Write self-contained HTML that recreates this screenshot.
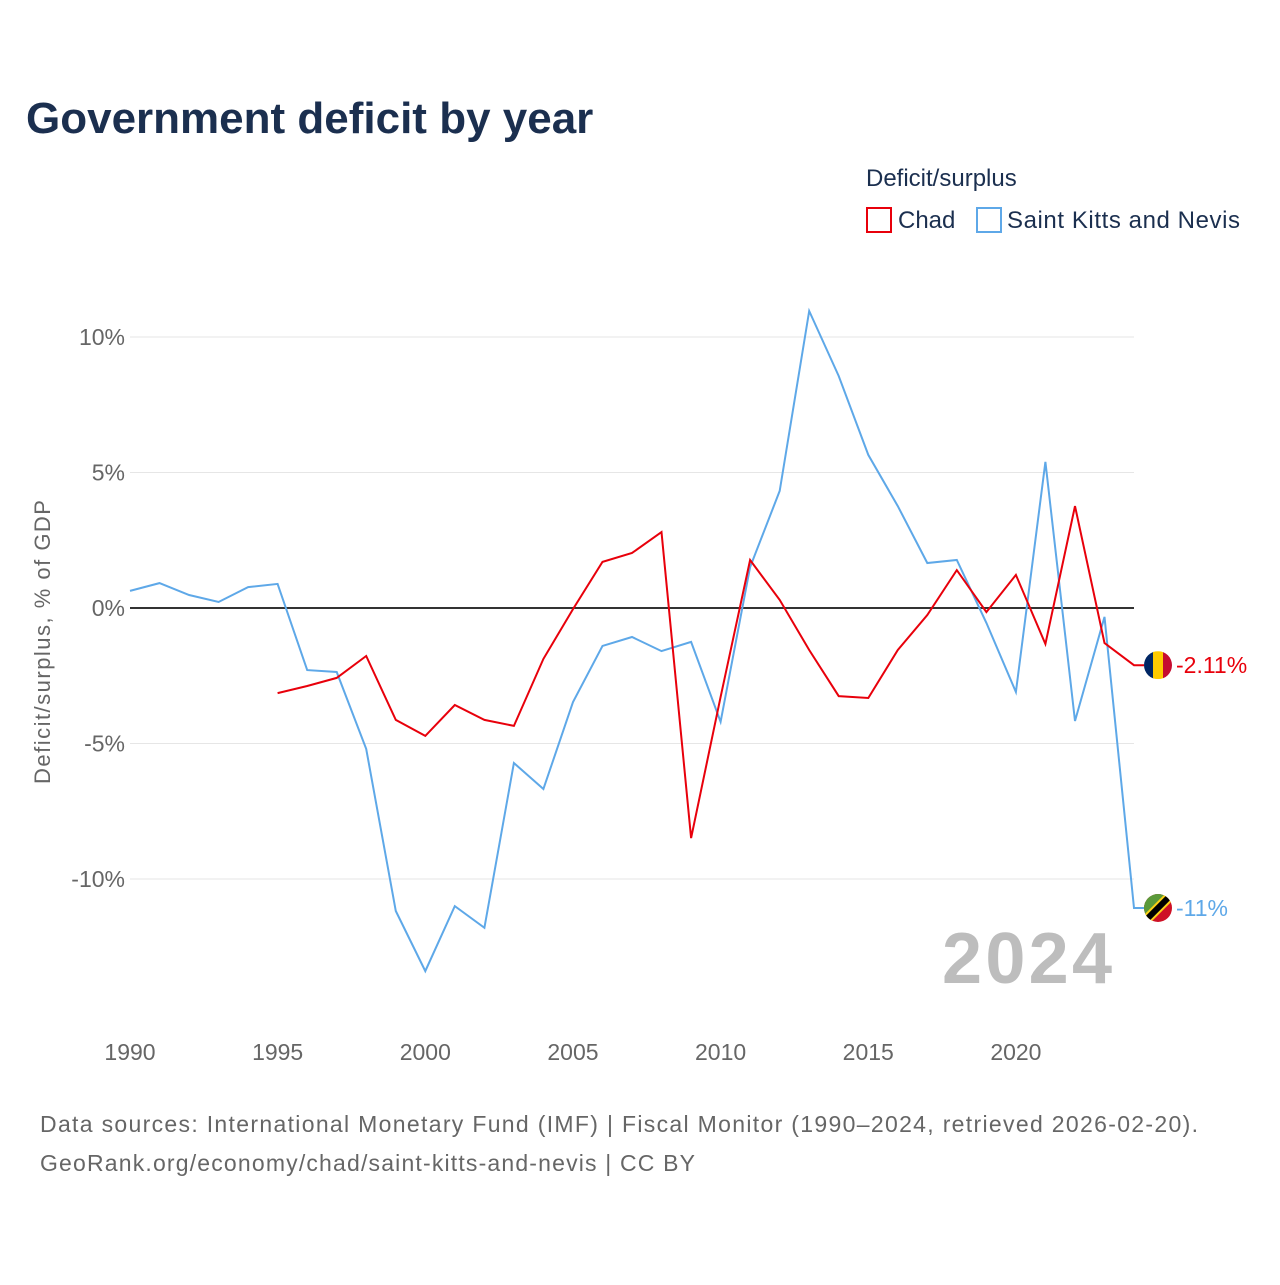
<!DOCTYPE html>
<html><head><meta charset="utf-8"><style>
body{margin:0;background:#fff;font-family:"Liberation Sans",sans-serif;}
</style></head><body>
<svg width="1280" height="1280" xmlns="http://www.w3.org/2000/svg" style="font-family:'Liberation Sans',sans-serif">
<text x="26" y="133" font-size="44" font-weight="bold" fill="#1b2f4f">Government deficit by year</text>
<text x="866" y="186" font-size="24" fill="#1b2f4f">Deficit/surplus</text>
<g><rect x="867" y="208" width="24" height="24" fill="none" stroke="#e8000b" stroke-width="2"/><text x="898" y="228" font-size="24" fill="#1b2f4f">Chad</text></g>
<g><rect x="977" y="208" width="24" height="24" fill="none" stroke="#5ea8e8" stroke-width="2"/><text x="1007" y="228" font-size="24" fill="#1b2f4f" textLength="233">Saint Kitts and Nevis</text></g>
<g id="grid"></g>
<text x="1112" y="983" font-size="72" font-weight="bold" fill="#bdbdbd" text-anchor="end" textLength="170">2024</text>
<g id="plot"></g>
<text transform="translate(50,642) rotate(-90)" font-size="22" fill="#666" text-anchor="middle" textLength="284">Deficit/surplus, % of GDP</text>
<text x="40" y="1132" font-size="23" fill="#666" textLength="1158">Data sources: International Monetary Fund (IMF) | Fiscal Monitor (1990–2024, retrieved 2026-02-20).</text>
<text x="40" y="1171" font-size="23" fill="#666" textLength="655">GeoRank.org/economy/chad/saint-kitts-and-nevis | CC BY</text>
</svg>
<script>
const years=[];for(let y=1990;y<=2024;y++)years.push(y);
const kittsValues=[0.63,0.92,0.48,0.22,0.77,0.89,-2.29,-2.36,-5.2,-11.18,-13.4,-11.0,-11.8,-5.72,-6.68,-3.47,-1.4,-1.07,-1.59,-1.25,-4.2,1.51,4.32,10.96,8.56,5.65,3.76,1.66,1.77,-0.55,-3.1,5.39,-4.17,-0.33,-11.07];
const chadYears=years.slice(5);
const chadValues=[-3.14,-2.88,-2.58,-1.77,-4.13,-4.72,-3.58,-4.13,-4.35,-1.88,-0.04,1.7,2.03,2.8,-8.49,-3.28,1.77,0.3,-1.55,-3.25,-3.32,-1.55,-0.26,1.4,-0.15,1.22,-1.33,3.76,-1.29,-2.11];
const yTicks=[10,5,0,-5,-10];
const xTicks=[1990,1995,2000,2005,2010,2015,2020];
const X=y=>130+(y-1990)*29.53;
const Y=v=>608-v*27.1;
const NS="http://www.w3.org/2000/svg";
const grid=document.getElementById('grid'),plot=document.getElementById('plot');
function mk(tag,attrs,parent){const e=document.createElementNS(NS,tag);for(const k in attrs)e.setAttribute(k,attrs[k]);parent.appendChild(e);return e;}
yTicks.forEach(v=>{
 const l=mk('line',{x1:130,x2:1134,y1:Y(v),y2:Y(v),stroke:v===0?'#333':'#e6e6e6','stroke-width':v===0?2:1},grid);
 
 
 const t=mk('text',{x:125,y:Y(v)+8,'font-size':23,fill:'#666','text-anchor':'end'},grid);
 t.textContent=v+'%';
 
 
});
xTicks.forEach(y=>{
 const t=mk('text',{x:X(y),y:1060,'font-size':23,fill:'#666','text-anchor':'middle'},grid);
 t.textContent=y;
 
 
});
function series(xs,vs,color,name){
 let d=xs.map((y,i)=>(i?'L':'M')+X(y).toFixed(1)+','+Y(vs[i]).toFixed(1)).join('');
 d+='L'+(X(xs[xs.length-1])+10)+','+Y(vs[vs.length-1]).toFixed(1);
 const p=mk('path',{d:d,fill:'none',stroke:color,'stroke-width':2},plot);
 
 
}
series(years,kittsValues,'#5ea8e8','saint-kitts');
series(chadYears,chadValues,'#e8000b','chad');
const cy=Y(chadValues[chadValues.length-1]),ky=Y(kittsValues[kittsValues.length-1]),fx=1158;
const cf=mk('g',{},plot);


const cc=mk('clipPath',{id:'cc'},cf);mk('circle',{cx:fx,cy:cy,r:14},cc);
const cg=mk('g',{'clip-path':'url(#cc)'},cf);
mk('rect',{x:fx-14,y:cy-14,width:10,height:28,fill:'#002664'},cg);
mk('rect',{x:fx-5,y:cy-14,width:10,height:28,fill:'#fecb00'},cg);
mk('rect',{x:fx+5,y:cy-14,width:10,height:28,fill:'#c60c30'},cg);
const kf=mk('g',{},plot);


const kc=mk('clipPath',{id:'kc'},kf);mk('circle',{cx:fx,cy:ky,r:14},kc);
const kg=mk('g',{'clip-path':'url(#kc)'},kf);
mk('rect',{x:fx-14,y:ky-14,width:28,height:28,fill:'#ce1126'},kg);
mk('polygon',{points:`${fx-14},${ky-14} ${fx+14},${ky-14} ${fx-14},${ky+14}`,fill:'#5a9a3a'},kg);
mk('line',{x1:fx-16,y1:ky+16,x2:fx+16,y2:ky-16,stroke:'#fcd116','stroke-width':10},kg);
mk('line',{x1:fx-16,y1:ky+16,x2:fx+16,y2:ky-16,stroke:'#000','stroke-width':6},kg);
const t1=mk('text',{x:1176,y:cy+8,'font-size':23,fill:'#e8000b'},plot);
t1.textContent=chadValues[chadValues.length-1].toFixed(2)+'%';


const t2=mk('text',{x:1176,y:ky+8,'font-size':23,fill:'#5ea8e8'},plot);
t2.textContent=Math.round(kittsValues[kittsValues.length-1])+'%';


</script>
</body></html>
